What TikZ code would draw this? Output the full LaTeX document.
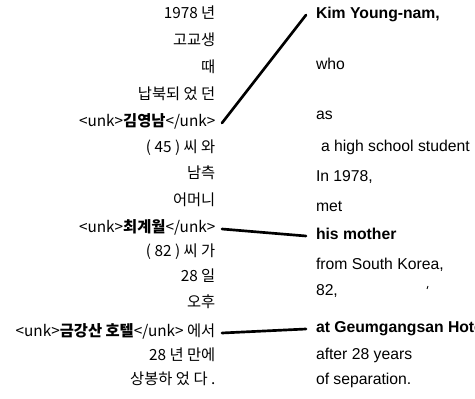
\documentclass[tikz,border=0pt]{standalone}
\usepackage{fontspec}
\setmainfont{Liberation Sans}
\newfontfamily\krfont{Noto Sans CJK KR}
\begin{document}
\begin{tikzpicture}[x=0.75pt,y=-0.75pt,
  kr/.style={anchor=east,inner xsep=0pt,inner ysep=0pt,outer xsep=5pt,
    font=\krfont\fontsize{11.5}{13}\selectfont,text height=0.75em,text depth=0.2em},
  en/.style={anchor=west,inner xsep=0pt,inner ysep=0pt,outer xsep=7.5pt,
    font=\fontsize{11.8}{13}\selectfont,text height=0.75em,text depth=0.2em},
  link/.style={line width=2pt,line cap=round}]
\useasboundingbox (0,0) rectangle (475,399);
% left column
\node[kr] (k1) at (222,15) {1978 년};
\node[kr] (k2) at (222,42) {고교생};
\node[kr] (k3) at (222,69) {때};
\node[kr] (k4) at (222,96) {납북되 었 던};
\node[kr] (k5) at (222,123) {<unk>\textbf{김영남}</unk>};
\node[kr] (k6) at (222,149) {( 45 ) 씨 와};
\node[kr] (k7) at (222,175) {남측};
\node[kr] (k8) at (222,202) {어머니};
\node[kr] (k9) at (222,229) {<unk>\textbf{최계월}</unk>};
\node[kr] (k10) at (222,253) {( 82 ) 씨 가};
\node[kr] (k11) at (222,278) {28 일};
\node[kr] (k12) at (222,304) {오후};
\node[kr] (k13) at (222,333) {<unk>\textbf{금강산 호텔}</unk> 에서};
\node[kr] (k14) at (222,357) {28 년 만에};
\node[kr] (k15) at (222,381) {상봉하 었 다 .};
% right column
\node[en] (e1) at (306,15) {\textbf{Kim Young-nam,}};
\node[en] (e2) at (306,66) {who};
\node[en] (e3) at (306,116) {as};
\node[en] (e4) at (311,148) {a high school student};
\node[en] (e5) at (306,178) {In 1978,};
\node[en] (e6) at (306,208) {met};
\node[en] (e7) at (306,236) {\textbf{his mother}};
\node[en] (e8) at (306,266) {from South Korea,};
\node[en] (e9) at (306,292) {82,};
\node[en] (e10) at (306,329) {\textbf{at Geumgangsan Hotel}};
\node[en] (e11) at (306,356) {after 28 years};
\node[en] (e12) at (306,381) {of separation.};
% links
\draw[link] (k5.east) -- (e1.west);
\draw[link] (k9.east) -- (e7.west);
\draw[link] (k13.east) -- (e10.west);
% stray mark
\coordinate (m1) at (428,286);
\coordinate (m2) at (427,289);
\draw[line width=0.6pt] (m1) -- (m2);
\end{tikzpicture}
\end{document}
